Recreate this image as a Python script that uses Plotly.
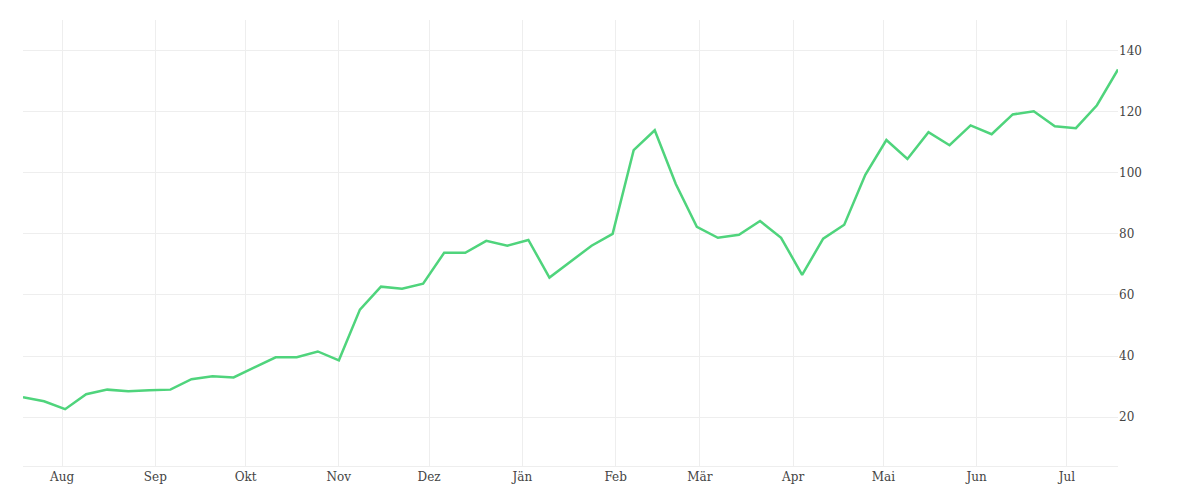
import pandas as pd
import plotly.graph_objects as go

# weekly values, Jul 2020 - Jul 2021
start_date = '2020-07-19'
values = [26.5, 25.2, 22.6, 27.5, 29.0, 28.5, 28.8, 29.0, 32.4, 33.4,
          33.0, 36.3, 39.6, 39.6, 41.5, 38.6, 55.2, 62.7, 62.0, 63.7,
          73.8, 73.8, 77.7, 76.1, 78.0, 65.7, 70.9, 76.1, 80.0, 107.4,
          113.9, 96.3, 82.3, 78.7, 79.7, 84.2, 78.7, 66.6, 78.4, 83.0,
          99.3, 110.7, 104.5, 113.3, 109.0, 115.5, 112.6, 119.1, 120.1, 115.2,
          114.6, 122.1, 133.8]
dates = pd.date_range(start_date, periods=len(values), freq='7D')

month_ticks = pd.date_range('2020-08-01', '2021-07-01', freq='MS')
month_labels = ['Aug', 'Sep', 'Okt', 'Nov', 'Dez', 'Jän', 'Feb', 'Mär', 'Apr', 'Mai', 'Jun', 'Jul']

fig = go.Figure(go.Scatter(x=dates, y=values, mode='lines',
                           line=dict(color='#4fd47c', width=2.5),
                           showlegend=False))

fig.update_layout(
    width=1200, height=500,
    margin=dict(l=15, r=90, t=12, b=42),
    plot_bgcolor='white', paper_bgcolor='white',
    font=dict(family='DejaVu Serif', size=12, color='#444'),
    xaxis=dict(tickvals=month_ticks, ticktext=month_labels,
               showgrid=True, gridcolor='#eeeeee', zeroline=False,
               showline=True, linecolor='#eeeeee',
               range=[dates[0], dates[-1]]),
    yaxis=dict(side='right', range=[4, 150], tickvals=[20, 40, 60, 80, 100, 120, 140],
               showgrid=True, gridcolor='#eeeeee', zeroline=False, ticklen=0),
)

fig.write_html('out.html')
